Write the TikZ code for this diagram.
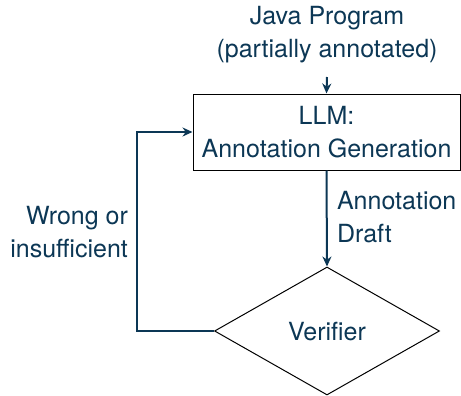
\documentclass[tikz,border=0pt]{standalone}
\usepackage{fontspec}
\setmainfont{TeX Gyre Heros}
\usetikzlibrary{shapes.geometric,arrows.meta}
\definecolor{ink}{RGB}{12,55,85}
\begin{document}
\begin{tikzpicture}[x=0.5pt,y=-0.5pt,
  every node/.style={font=\fontsize{12.5}{16.5}\selectfont, text=ink},
  conn/.style={draw=ink, line width=1pt, -{Stealth[length=5pt,width=4.5pt]}},
  stepbox/.style={draw=black, line width=0.5pt, rectangle, minimum width=133.5pt, minimum height=38pt, align=center, inner sep=0pt},
  decide/.style={draw=black, line width=0.5pt, diamond, minimum width=112.5pt, minimum height=64pt, inner sep=0pt}]
\useasboundingbox (0,0) rectangle (461,396);
\node[align=center] (input) at (327,35) {Java Program\\(partially annotated)};
\coordinate (instart) at (327,77);
\node[stepbox] (llm) at (326.5,132) {LLM:\\Annotation Generation};
\node[decide] (ver) at (327,331) {};
\node (vtext) at (327,332) {Verifier};
\node[align=left, anchor=west] (draft) at (330,217.5) {Annotation\\Draft};
\node[align=right, anchor=east] (wrong) at (135,232.5) {Wrong or\\insufficient};
\coordinate (corner) at (137,331);
\draw[conn] (instart) -- (llm.north);
\draw[conn] (llm.south) -- (ver.north);
\draw[conn] (ver.west) -- (corner) |- (llm.west |- 0,132);
\end{tikzpicture}
\end{document}
